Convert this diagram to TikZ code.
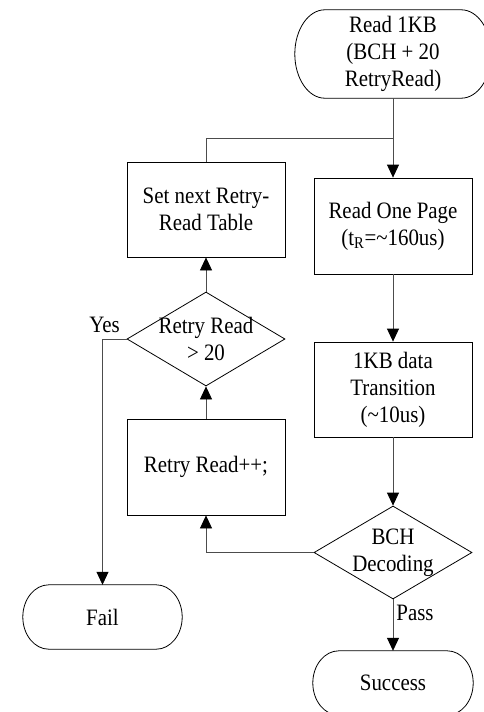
\documentclass[tikz,border=0pt]{standalone}
\usepackage{fontspec}
\setmainfont{Liberation Serif}[FakeStretch=0.89]
\usetikzlibrary{shapes.geometric,arrows.meta}
\newcommand\drawterm[3]{% node name, end x-radius (pt), half height (pt)
  \draw[shape line] ([xshift=-#2pt]#1.north east)
    .. controls +(0.5523*#2pt,0pt) and +(0pt,0.5523*#3pt) .. (#1.east)
    .. controls +(0pt,-0.5523*#3pt) and +(0.5523*#2pt,0pt) .. ([xshift=-#2pt]#1.south east)
    -- ([xshift=#2pt]#1.south west)
    .. controls +(-0.5523*#2pt,0pt) and +(0pt,-0.5523*#3pt) .. (#1.west)
    .. controls +(0pt,0.5523*#3pt) and +(-0.5523*#2pt,0pt) .. ([xshift=#2pt]#1.north west)
    -- cycle;}
\begin{document}
\begin{tikzpicture}[x=1pt,y=-1pt,
  every node/.style={font=\fontsize{23.5}{27}\selectfont, text=black},
  shape line/.style={draw=black, line width=0.8pt},
  procbox/.style={shape line, rectangle, inner sep=0pt, align=center, minimum width=158pt, minimum height=95pt},
  termbox/.style={rectangle, inner sep=0pt, align=center},
  decbox/.style={shape line, diamond, inner sep=0pt, minimum width=158pt, minimum height=94pt},
  conn/.style={draw=black!70, line width=0.8pt},
  arr/.style={conn, -{Triangle[length=13pt,width=12pt,fill=black,color=black]}}
]
\useasboundingbox (0,0) rectangle (484,712);

\node[termbox, minimum width=196pt, minimum height=88pt] (start) at (393,54) {Read 1KB\\(BCH + 20\\RetryRead)};
\node[procbox] (setnext) at (206,209.5) {Set next Retry-\\Read Table};
\node[procbox, minimum height=96pt] (readpage) at (393,226) {Read One Page\\(t\textsubscript{R}=\textasciitilde160us)};
\node[decbox, label={[align=center]center:Retry Read\\> 20}] (retrydia) at (206,339) {};
\node[procbox] (kb) at (393,389.5) {1KB data\\Transition\\(\textasciitilde10us)};
\node[procbox, minimum height=96pt] (retrypp) at (206,467) {Retry Read++;};
\node[decbox, minimum height=93pt, label={[align=center]center:BCH\\Decoding}] (bch) at (393,552.5) {};
\node[termbox, minimum width=159pt, minimum height=64pt] (fail) at (102.5,617) {Fail};
\node[termbox, minimum width=160pt, minimum height=64pt] (success) at (393,683) {Success};

\drawterm{start}{30}{44}
\drawterm{fail}{26}{32}
\drawterm{success}{26}{32}

\coordinate (junc) at (393,138);

\draw[arr] (start.south) -- (readpage.north);
\draw[conn] (setnext.north) |- (junc);
\draw[arr] (readpage.south) -- (kb.north);
\draw[arr] (kb.south) -- (bch.north);
\draw[arr] (bch.south) -- node[pos=0.27, right, inner sep=3pt] {Pass} (success.north);
\draw[arr] (bch.west) -| (retrypp.south);
\draw[arr] (retrypp.north) -- (retrydia.south);
\draw[arr] (retrydia.north) -- (setnext.south);
\draw[arr] (retrydia.west) -| node[pos=0.5, above, inner sep=2pt, xshift=2pt, yshift=4pt] {Yes} (fail.north);
\end{tikzpicture}
\end{document}
